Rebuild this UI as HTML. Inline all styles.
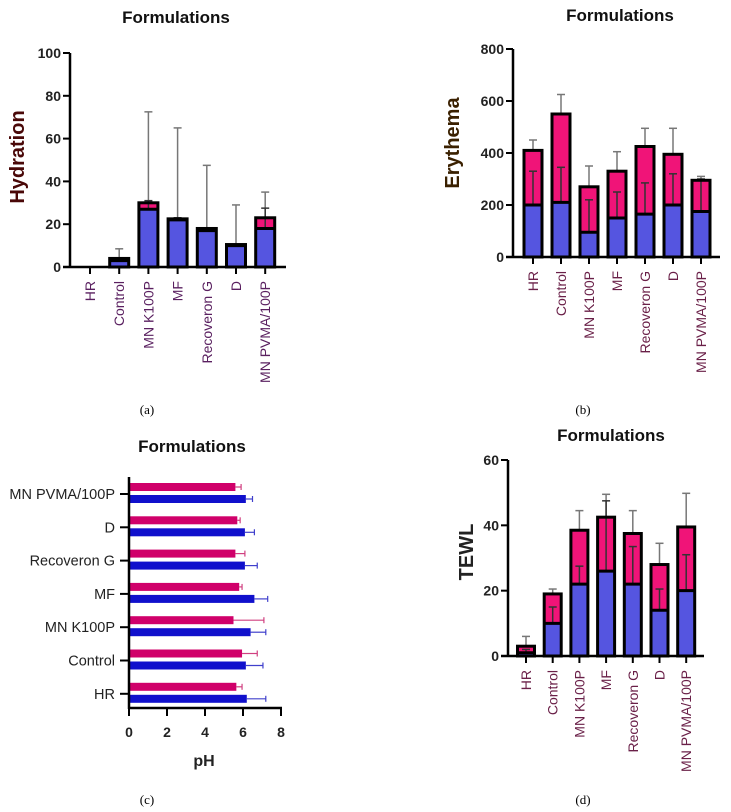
<!DOCTYPE html>
<html><head><meta charset="utf-8"><style>
body{margin:0;background:#fff}
svg{display:block;font-family:"Liberation Sans",Arial,sans-serif}
</style></head><body>
<svg id="s" width="731" height="812" viewBox="0 0 731 812"></svg>
<script>
const cats=["HR","Control","MN K100P","MF","Recoveron G","D","MN PVMA/100P"];
const hydBlue=[0,3,27,22,17,10,18];
const hydTotal=[0,4,30,22.5,18,10.5,23];
const hydErr=[0,8.5,72.5,65,47.5,29,35];
const hydInnerErr=[0,0,31,23,18,0,27.5];
const hydTicks=[0,20,40,60,80,100];
const eryBlue=[200,210,95,150,165,200,175];
const eryTotal=[410,550,270,330,425,395,295];
const eryErr=[450,625,350,405,495,495,310];
const eryInnerErr=[330,345,220,250,285,320,300];
const eryTicks=[0,200,400,600,800];
const tewlBlue=[1,10,22,26,22,14,20];
const tewlTotal=[3,19,38.5,42.5,37.5,28,39.5];
const tewlErr=[6,20.5,44.5,49.5,44.5,34.5,49.8];
const tewlInnerErr=[2,15,27.5,47.5,33.5,20.5,31];
const tewlTicks=[0,20,40,60];
const phCats=["MN PVMA/100P","D","Recoveron G","MF","MN K100P","Control","HR"];
const phPink=[5.6,5.7,5.6,5.8,5.5,5.95,5.65];
const phPinkErr=[5.9,5.85,6.1,5.95,7.1,6.75,5.95];
const phBlue=[6.15,6.1,6.1,6.6,6.4,6.15,6.2];
const phBlueErr=[6.5,6.6,6.75,7.3,7.2,7.05,7.2];
const phTicks=[0,2,4,6,8];

const S=document.getElementById('s');const NS='http://www.w3.org/2000/svg';
function el(t,a,txt){const e=document.createElementNS(NS,t);for(const k in a)e.setAttribute(k,a[k]);if(txt!==undefined)e.textContent=txt;S.appendChild(e);return e;}

function vchart(o){
  const y=v=>o.y0-(v/o.max)*(o.y0-o.y1);
  const x=i=>o.xs+i*o.dx;
  let e=el('text',{x:o.tx,y:o.ty,'text-anchor':'middle','font-size':17,'font-weight':'bold',fill:'#111'},'Formulations');
  
  
  e=el('text',{x:o.ytx,y:o.yty,'text-anchor':'middle','font-size':20,'font-weight':'bold',fill:o.ytc,transform:`rotate(-90 ${o.ytx} ${o.yty})`},o.ytitle);
  
  
  o.blue.forEach((b,i)=>{
    const cx=x(i),w=o.bw,l=cx-w/2;
    if(o.total[i]>0){
      e=el('rect',{x:l,y:y(b),width:w,height:y(0)-y(b),fill:'#5555e0'});
      
      
      e=el('rect',{x:l,y:y(o.total[i]),width:w,height:y(b)-y(o.total[i]),fill:'#f01478'});
      
      
    }
    el('line',{x1:cx,x2:cx,y1:y(o.total[i]),y2:y(o.err[i]),stroke:'#777','stroke-width':1.5});
    el('line',{x1:cx-4,x2:cx+4,y1:y(o.err[i]),y2:y(o.err[i]),stroke:'#777','stroke-width':1.5});
    if(o.inner[i]>b){
      el('line',{x1:cx,x2:cx,y1:y(b),y2:y(o.inner[i]),stroke:'#333','stroke-width':1.5});
      el('line',{x1:cx-4,x2:cx+4,y1:y(o.inner[i]),y2:y(o.inner[i]),stroke:'#333','stroke-width':1.5});
    }
    if(o.total[i]>0){
      el('rect',{x:l,y:y(o.total[i]),width:w,height:y(0)-y(o.total[i]),fill:'none',stroke:'#000','stroke-width':3});
      el('line',{x1:l,x2:l+w,y1:y(b),y2:y(b),stroke:'#000','stroke-width':3});
    }
    el('line',{x1:cx,x2:cx,y1:y(0),y2:y(0)+7,stroke:'#000','stroke-width':2});
    e=el('text',{x:cx+5,y:y(0)+14,'text-anchor':'end','font-size':14,fill:o.lc,transform:`rotate(-90 ${cx+5} ${y(0)+14})`},cats[i]);
    
    
  });
  el('line',{x1:o.ax,x2:o.ax,y1:y(o.max),y2:y(0),stroke:'#000','stroke-width':2.5});
  el('line',{x1:o.ax-7,x2:o.xend,y1:y(0),y2:y(0),stroke:'#000','stroke-width':2.5});
  o.ticks.forEach(t=>{
    el('line',{x1:o.ax-7,x2:o.ax,y1:y(t),y2:y(t),stroke:'#000','stroke-width':2});
    const e2=el('text',{x:o.ax-9,y:y(t)+5,'text-anchor':'end','font-size':14,'font-weight':'bold',fill:'#222'},t);
    
    
  });
}
vchart({id:'hydration',y0:267,y1:53,max:100,xs:90,dx:29.2,bw:19,ax:70,xend:286,tx:176,ty:23,ytx:24,yty:157,ytitle:'Hydration',ytc:'#4a0808',lc:'#5a2060',blue:hydBlue,total:hydTotal,err:hydErr,inner:hydInnerErr,ticks:hydTicks});
vchart({id:'erythema',y0:257,y1:49,max:800,xs:533,dx:28,bw:18,ax:513,xend:720,tx:620,ty:21,ytx:459,yty:143,ytitle:'Erythema',ytc:'#3a2000',lc:'#6a2048',blue:eryBlue,total:eryTotal,err:eryErr,inner:eryInnerErr,ticks:eryTicks});
vchart({id:'tewl',y0:656,y1:460,max:60,xs:526,dx:26.7,bw:17,ax:508,xend:704,tx:611,ty:441,ytx:473,yty:552,ytitle:'TEWL',ytc:'#222',lc:'#6a2048',blue:tewlBlue,total:tewlTotal,err:tewlErr,inner:tewlInnerErr,ticks:tewlTicks});

// panel c
(function(){
  const x=v=>129+v*19;
  const ty=i=>494+i*33.3;
  let e=el('text',{x:192,y:452,'text-anchor':'middle','font-size':17,'font-weight':'bold',fill:'#111'},'Formulations');
  
  
  phCats.forEach((c,i)=>{
    const yc=ty(i);
    e=el('rect',{x:x(0),y:yc-11,width:x(phPink[i])-x(0),height:8,fill:'#d0006a'});
    
    
    e=el('rect',{x:x(0),y:yc+1,width:x(phBlue[i])-x(0),height:8,fill:'#1010cc'});
    
    
    el('line',{x1:x(phPink[i]),x2:x(phPinkErr[i]),y1:yc-7,y2:yc-7,stroke:'#d04080','stroke-width':1.2});
    el('line',{x1:x(phPinkErr[i]),x2:x(phPinkErr[i]),y1:yc-10,y2:yc-4,stroke:'#d04080','stroke-width':1.2});
    el('line',{x1:x(phBlue[i]),x2:x(phBlueErr[i]),y1:yc+5,y2:yc+5,stroke:'#4040cc','stroke-width':1.2});
    el('line',{x1:x(phBlueErr[i]),x2:x(phBlueErr[i]),y1:yc+2,y2:yc+8,stroke:'#4040cc','stroke-width':1.2});
    el('line',{x1:120,x2:129,y1:yc,y2:yc,stroke:'#000','stroke-width':2});
    e=el('text',{x:115,y:yc+5,'text-anchor':'end','font-size':14.5,fill:'#222'},c);
    
    
  });
  el('line',{x1:129,x2:129,y1:477,y2:709,stroke:'#000','stroke-width':2.5});
  el('line',{x1:128,x2:282,y1:708,y2:708,stroke:'#000','stroke-width':2.5});
  phTicks.forEach(t=>{
    el('line',{x1:x(t),x2:x(t),y1:708,y2:716,stroke:'#000','stroke-width':2});
    const e2=el('text',{x:x(t),y:737,'text-anchor':'middle','font-size':14,'font-weight':'bold',fill:'#222'},t);
    
    
  });
  e=el('text',{x:204,y:766,'text-anchor':'middle','font-size':16,'font-weight':'bold',fill:'#222'},'pH');
  
  
})();
[['(a)',147,414],['(b)',583,414],['(c)',147,804],['(d)',583,804]].forEach(p=>{
  const e=el('text',{x:p[1],y:p[2],'text-anchor':'middle','font-size':13,'font-family':'Liberation Serif,serif',fill:'#000'},p[0]);
  
  
});
</script>
</body></html>
